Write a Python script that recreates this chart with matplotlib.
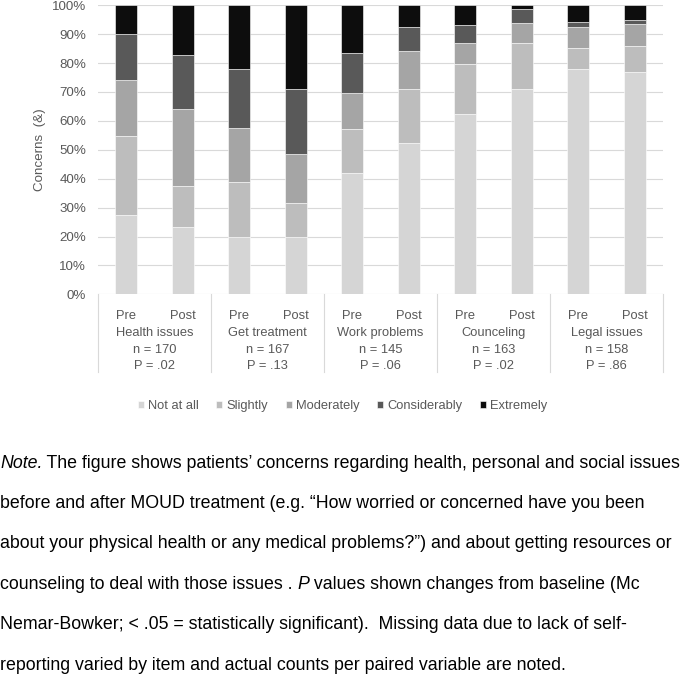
import numpy as np
import matplotlib.pyplot as plt

plt.rcParams['font.family'] = ['Liberation Sans', 'DejaVu Sans']

# Données
groupes = ["Health issues", "Get treatment", "Work problems", "Counceling", "Legal issues"]
n_vals = [170, 167, 145, 163, 158]
p_vals = [".02", ".13", ".06", ".02", ".86"]
phases = ["Pre", "Post"]

niveaux = ["Not at all", "Slightly", "Moderately", "Considerably", "Extremely"]
not_at_all = [27.6, 23.4, 19.8, 19.8, 42.1, 52.4, 62.5, 71.2, 77.9, 77.0]
slightly = [27.2, 14.2, 19.1, 11.8, 15.1, 18.6, 17.2, 15.8, 7.3, 9.0]
moderately = [19.2, 26.4, 18.5, 16.8, 12.5, 13.1, 7.3, 6.9, 7.2, 7.7]
considerably = [16.1, 18.9, 20.5, 22.8, 13.7, 8.3, 6.2, 4.8, 1.8, 1.2]
extremely = [9.9, 17.1, 22.1, 28.8, 16.6, 7.6, 6.8, 1.3, 5.8, 5.1]
couleurs = ["#d5d5d5", "#bdbdbd", "#a5a5a5", "#595959", "#0d0d0d"]

series = [not_at_all, slightly, moderately, considerably, extremely]
gris = "#595959"
fs = 9.3

fig = plt.figure(figsize=(6.85, 6.74), dpi=100)
ax = fig.add_axes([98 / 685, 1 - 294.3 / 674, 565 / 685, 289 / 674])

x = np.arange(len(groupes) * 2)
bas = np.zeros(len(x))
barres = []
for vals, c, lab in zip(series, couleurs, niveaux):
    b = ax.bar(x, vals, 0.39, bottom=bas, color=c, edgecolor="white", linewidth=0.4, label=lab, zorder=3)
    barres.append(b)
    bas += np.array(vals)

ax.set_xlim(-0.5, len(x) - 0.5)
ax.set_ylim(0, 100)
ax.set_yticks(np.arange(0, 101, 10))
ax.set_yticklabels([f"{v}%" for v in range(0, 101, 10)])
ax.yaxis.grid(True, color="#d9d9d9", linewidth=0.8, zorder=0)
ax.tick_params(axis="y", length=0, pad=8.6, labelsize=9.6, labelcolor=gris)
for s in ax.spines.values():
    s.set_visible(False)

ax.set_xticks(x)
ax.set_xticklabels(phases * len(groupes))
ax.tick_params(axis="x", length=0, pad=11, labelsize=fs, labelcolor=gris)

# séparateurs des groupes
for xs in np.arange(-0.5, len(x), 2):
    ax.plot([xs, xs], [0, -26.9], color="#d9d9d9", linewidth=0.8, clip_on=False)

for i, g in enumerate(groupes):
    xc = 2 * i + 0.5
    ax.text(xc, -13.5, g, ha="center", va="center", fontsize=fs, color=gris)
    ax.text(xc, -19.3, f"n = {n_vals[i]}", ha="center", va="center", fontsize=fs, color=gris)
    ax.text(xc, -24.9, f"P = {p_vals[i]}", ha="center", va="center", fontsize=fs, color=gris)

fig.text(40 / 685, 1 - 150 / 674, "Concerns  (&)", rotation=90, ha="center", va="center",
         fontsize=9.6, color=gris)

fig.legend(barres, niveaux, loc="center", bbox_to_anchor=(0.5, 1 - 406 / 674), ncol=5,
           frameon=False, fontsize=fs, labelcolor=gris, handlelength=0.45, handleheight=0.45,
           handletextpad=0.3, columnspacing=1.4)

# Note (morceaux : texte, italique ou non)
note = [
    [("Note.", True), (" The figure shows patients’ concerns regarding health, personal and social issues", False)],
    [("before and after MOUD treatment (e.g. “How worried or concerned have you been", False)],
    [("about your physical health or any medical problems?”) and about getting resources or", False)],
    [("counseling to deal with those issues . ", False), ("P", True),
     (" values shown changes from baseline (Mc", False)],
    [("Nemar-Bowker; < .05 = statistically significant).  Missing data due to lack of self-", False)],
    [("reporting varied by item and actual counts per paired variable are noted.", False)],
]
renderer = fig.canvas.get_renderer()
for i, ligne in enumerate(note):
    y = 1 - (463 + 40.4 * i) / 674
    x0 = 0.0
    for morceau, ital in ligne:
        t = fig.text(x0, y, morceau, ha="left", va="center", fontsize=12.8, color="black",
                     style="italic" if ital else "normal")
        bb = t.get_window_extent(renderer)
        x0 += bb.width / fig.bbox.width

fig.savefig("out.png", dpi=100)
